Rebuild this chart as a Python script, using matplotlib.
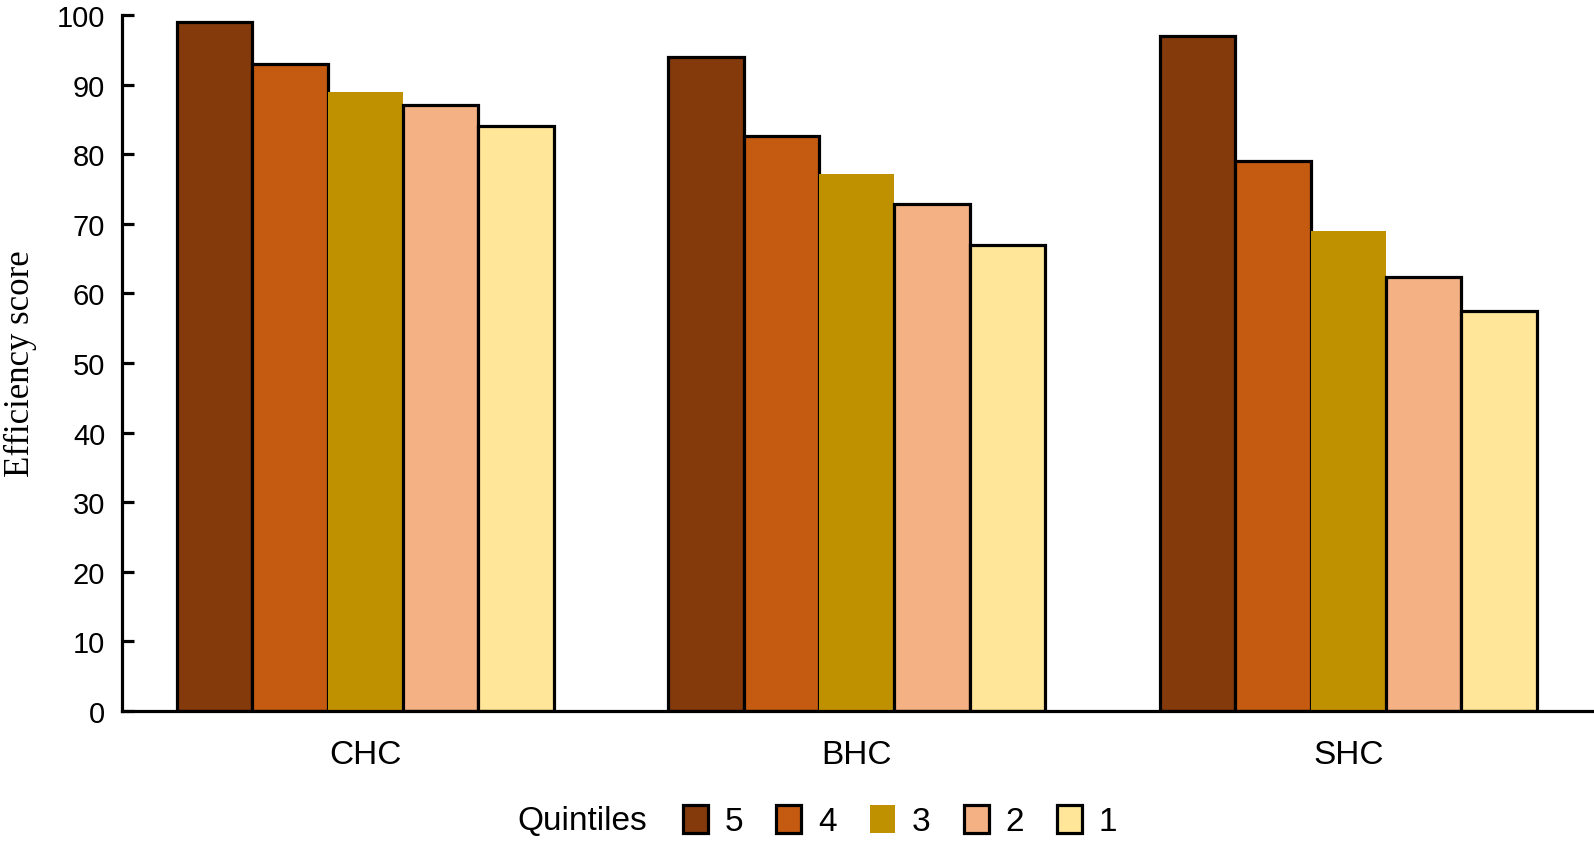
import numpy as np
import matplotlib
matplotlib.use("Agg")
import matplotlib.pyplot as plt
import matplotlib.transforms as mtransforms
from matplotlib.patches import Patch

# Data
groups = ["CHC", "BHC", "SHC"]
quintiles = ["5", "4", "3", "2", "1"]
q5 = [99.0, 94.0, 97.0]
q4 = [93.0, 82.6, 79.0]
q3 = [89.0, 77.1, 68.9]
q2 = [87.0, 72.9, 62.4]
q1 = [84.0, 67.0, 57.4]
colors = ["#853A0C", "#C55A11", "#BF9000", "#F4B183", "#FFE699"]

series = [q5, q4, q3, q2, q1]
LW = 2.3

plt.rcParams["font.family"] = "Liberation Sans"

fig = plt.figure(figsize=(15.94, 8.45), dpi=100)
ax = fig.add_axes([122 / 1594, 1 - 712 / 845, 1 - 122 / 1594, (712 - 16) / 845])

x = np.arange(len(groups))
w = 0.1535
for j, (vals, col) in enumerate(zip(series, colors)):
    # the gold bars have no outline in the original
    lw = 0 if j == 2 else LW
    ax.bar(x + (j - 2) * w, vals, width=w, color=col, edgecolor="black", linewidth=lw)

ax.set_xlim(-0.495, 2.5)
ax.set_ylim(0, 100)
ax.set_yticks(np.arange(0, 101, 10))
ax.set_xticks(x)
ax.set_xticklabels(groups, fontsize=24)
ax.tick_params(axis="x", length=0, pad=20)
ax.tick_params(axis="y", direction="in", length=8.5, width=LW, labelsize=21, pad=12)

for s in ["top", "right"]:
    ax.spines[s].set_visible(False)
for s in ["left", "bottom"]:
    ax.spines[s].set_linewidth(LW)

ax.set_ylabel("Efficiency score", family="Liberation Serif", fontsize=25)
trans = mtransforms.blended_transform_factory(fig.transFigure, ax.transAxes)
ax.yaxis.set_label_coords(37 / 1594, 0.5, transform=trans)

handles = [Patch(facecolor=c, edgecolor="black", linewidth=0 if i == 2 else LW)
           for i, c in enumerate(colors)]
fig.text(582 / 1594, 1 - 822 / 845, "Quintiles", fontsize=24, ha="center", va="center")
fig.legend(handles, quintiles, loc="center", bbox_to_anchor=(900 / 1594, 1 - 822 / 845),
           ncol=5, frameon=False, fontsize=24, handlelength=0.75, handleheight=0.95,
           handletextpad=0.5, columnspacing=1.0, borderpad=0)

fig.savefig("out.png", dpi=100)
